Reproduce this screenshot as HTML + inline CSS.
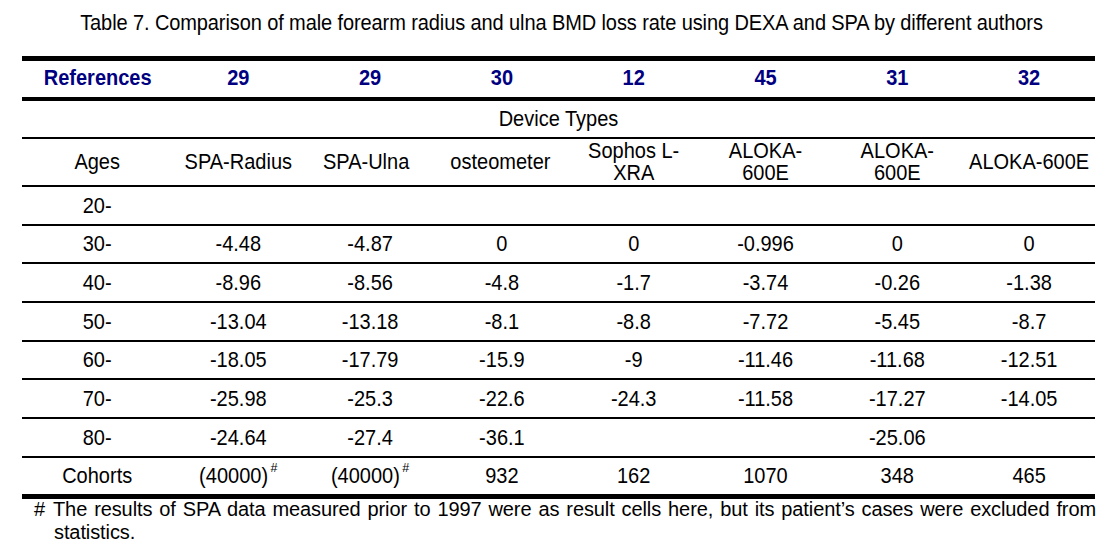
<!DOCTYPE html>
<html><head><meta charset="utf-8"><style>
html,body{margin:0;padding:0;background:#fff;}
body{width:1109px;height:549px;position:relative;overflow:hidden;font-family:"Liberation Sans",sans-serif;color:#000;}
.ln{position:absolute;left:22px;width:1073px;background:#000;}
.c{position:absolute;white-space:nowrap;font-size:20px;line-height:0;height:0;}
.c>span{display:inline-block;transform:translateX(-50%) scaleY(1.07);transform-origin:50% 6.93px;}
.b{font-weight:bold;color:#000080;}
.sup{font-size:12.5px;position:relative;top:-10px;margin-left:2.5px;}
</style></head><body>

<div class="ln" style="top:56px;height:5px"></div>
<div class="ln" style="top:97px;height:4px"></div>
<div class="ln" style="top:137px;height:2px"></div>
<div class="ln" style="top:185px;height:2px"></div>
<div class="ln" style="top:224px;height:2px"></div>
<div class="ln" style="top:262px;height:2px"></div>
<div class="ln" style="top:301px;height:2px"></div>
<div class="ln" style="top:340px;height:2px"></div>
<div class="ln" style="top:378px;height:2px"></div>
<div class="ln" style="top:417px;height:2px"></div>
<div class="ln" style="top:456px;height:2px"></div>
<div class="ln" style="top:494px;height:5px"></div>
<div class="c" style="left:561.5px;top:23.1px;letter-spacing:-0.1px"><span>Table 7. Comparison of male forearm radius and ulna BMD loss rate using DEXA and SPA by different authors</span></div>
<div class="c b" style="left:97.7px;top:78.1px"><span>References</span></div>
<div class="c b" style="left:238.3px;top:78.1px"><span>29</span></div>
<div class="c b" style="left:370.1px;top:78.1px"><span>29</span></div>
<div class="c b" style="left:501.9px;top:78.1px"><span>30</span></div>
<div class="c b" style="left:633.7px;top:78.1px"><span>12</span></div>
<div class="c b" style="left:765.5px;top:78.1px"><span>45</span></div>
<div class="c b" style="left:897.3px;top:78.1px"><span>31</span></div>
<div class="c b" style="left:1029.1px;top:78.1px"><span>32</span></div>
<div class="c" style="left:558.5px;top:119.1px"><span>Device Types</span></div>
<div class="c" style="left:97.2px;top:162.1px"><span>Ages</span></div>
<div class="c" style="left:238.3px;top:162.1px"><span>SPA-Radius</span></div>
<div class="c" style="left:366.1px;top:162.1px"><span>SPA-Ulna</span></div>
<div class="c" style="left:500.4px;top:162.1px"><span>osteometer</span></div>
<div class="c" style="left:1029.1px;top:162.1px"><span>ALOKA-600E</span></div>
<div class="c" style="left:633.7px;top:151.1px"><span>Sophos L-</span></div>
<div class="c" style="left:633.7px;top:173.1px"><span>XRA</span></div>
<div class="c" style="left:765.5px;top:151.1px"><span>ALOKA-</span></div>
<div class="c" style="left:765.5px;top:173.1px"><span>600E</span></div>
<div class="c" style="left:897.3px;top:151.1px"><span>ALOKA-</span></div>
<div class="c" style="left:897.3px;top:173.1px"><span>600E</span></div>
<div class="c" style="left:97.2px;top:205.6px"><span>20-</span></div>
<div class="c" style="left:97.2px;top:244.1px"><span>30-</span></div>
<div class="c" style="left:238.3px;top:244.1px"><span>-4.48</span></div>
<div class="c" style="left:370.1px;top:244.1px"><span>-4.87</span></div>
<div class="c" style="left:501.9px;top:244.1px"><span>0</span></div>
<div class="c" style="left:633.7px;top:244.1px"><span>0</span></div>
<div class="c" style="left:765.5px;top:244.1px"><span>-0.996</span></div>
<div class="c" style="left:897.3px;top:244.1px"><span>0</span></div>
<div class="c" style="left:1029.1px;top:244.1px"><span>0</span></div>
<div class="c" style="left:97.2px;top:282.6px"><span>40-</span></div>
<div class="c" style="left:238.3px;top:282.6px"><span>-8.96</span></div>
<div class="c" style="left:370.1px;top:282.6px"><span>-8.56</span></div>
<div class="c" style="left:501.9px;top:282.6px"><span>-4.8</span></div>
<div class="c" style="left:633.7px;top:282.6px"><span>-1.7</span></div>
<div class="c" style="left:765.5px;top:282.6px"><span>-3.74</span></div>
<div class="c" style="left:897.3px;top:282.6px"><span>-0.26</span></div>
<div class="c" style="left:1029.1px;top:282.6px"><span>-1.38</span></div>
<div class="c" style="left:97.2px;top:321.6px"><span>50-</span></div>
<div class="c" style="left:238.3px;top:321.6px"><span>-13.04</span></div>
<div class="c" style="left:370.1px;top:321.6px"><span>-13.18</span></div>
<div class="c" style="left:501.9px;top:321.6px"><span>-8.1</span></div>
<div class="c" style="left:633.7px;top:321.6px"><span>-8.8</span></div>
<div class="c" style="left:765.5px;top:321.6px"><span>-7.72</span></div>
<div class="c" style="left:897.3px;top:321.6px"><span>-5.45</span></div>
<div class="c" style="left:1029.1px;top:321.6px"><span>-8.7</span></div>
<div class="c" style="left:97.2px;top:360.1px"><span>60-</span></div>
<div class="c" style="left:238.3px;top:360.1px"><span>-18.05</span></div>
<div class="c" style="left:370.1px;top:360.1px"><span>-17.79</span></div>
<div class="c" style="left:501.9px;top:360.1px"><span>-15.9</span></div>
<div class="c" style="left:633.7px;top:360.1px"><span>-9</span></div>
<div class="c" style="left:765.5px;top:360.1px"><span>-11.46</span></div>
<div class="c" style="left:897.3px;top:360.1px"><span>-11.68</span></div>
<div class="c" style="left:1029.1px;top:360.1px"><span>-12.51</span></div>
<div class="c" style="left:97.2px;top:398.6px"><span>70-</span></div>
<div class="c" style="left:238.3px;top:398.6px"><span>-25.98</span></div>
<div class="c" style="left:370.1px;top:398.6px"><span>-25.3</span></div>
<div class="c" style="left:501.9px;top:398.6px"><span>-22.6</span></div>
<div class="c" style="left:633.7px;top:398.6px"><span>-24.3</span></div>
<div class="c" style="left:765.5px;top:398.6px"><span>-11.58</span></div>
<div class="c" style="left:897.3px;top:398.6px"><span>-17.27</span></div>
<div class="c" style="left:1029.1px;top:398.6px"><span>-14.05</span></div>
<div class="c" style="left:97.2px;top:437.6px"><span>80-</span></div>
<div class="c" style="left:238.3px;top:437.6px"><span>-24.64</span></div>
<div class="c" style="left:370.1px;top:437.6px"><span>-27.4</span></div>
<div class="c" style="left:501.9px;top:437.6px"><span>-36.1</span></div>
<div class="c" style="left:897.3px;top:437.6px"><span>-25.06</span></div>
<div class="c" style="left:97.2px;top:476.1px"><span>Cohorts</span></div>
<div class="c" style="left:238.3px;top:476.1px"><span>(40000)<span class="sup">#</span></span></div>
<div class="c" style="left:370.1px;top:476.1px"><span>(40000)<span class="sup">#</span></span></div>
<div class="c" style="left:501.9px;top:476.1px"><span>932</span></div>
<div class="c" style="left:633.7px;top:476.1px"><span>162</span></div>
<div class="c" style="left:765.5px;top:476.1px"><span>1070</span></div>
<div class="c" style="left:897.3px;top:476.1px"><span>348</span></div>
<div class="c" style="left:1029.1px;top:476.1px"><span>465</span></div>
<div style="position:absolute;left:34px;top:498px;width:1062px;font-size:20px;letter-spacing:-0.1px;line-height:23px;text-align:justify;text-align-last:left;"><span style="position:absolute;left:0;top:0">#</span><div style="padding-left:19px">The results of SPA data measured prior to 1997 were as result cells here, but its patient&#8217;s cases were excluded from <span style="margin-left:1px">statistics.</span></div></div>
</body></html>
